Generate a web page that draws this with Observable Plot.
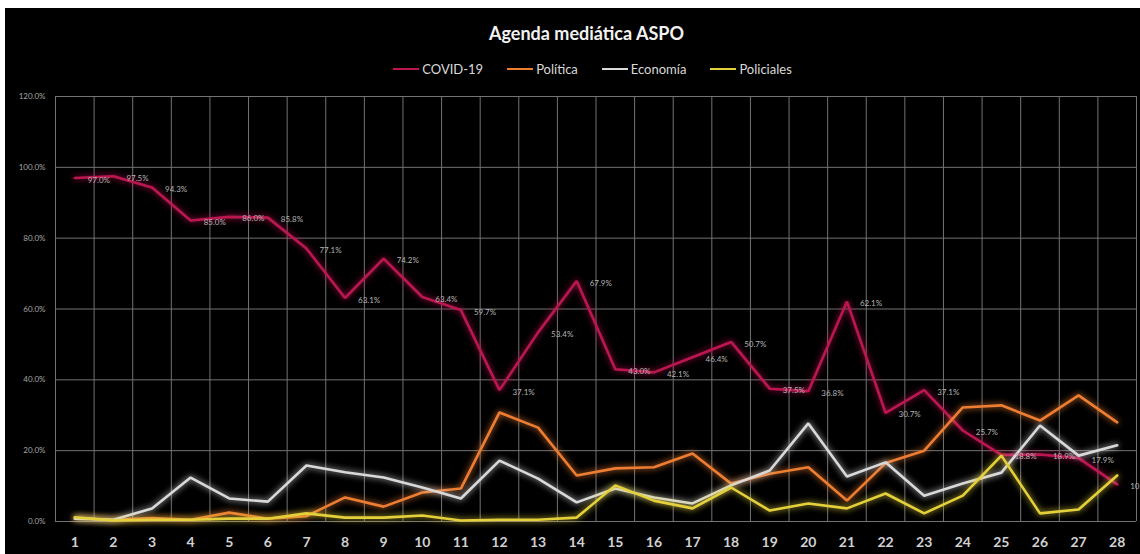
<!DOCTYPE html>
<html>
<head>
<meta charset="utf-8">
<script src="https://cdn.jsdelivr.net/npm/d3@7"></script>
<script src="https://cdn.jsdelivr.net/npm/@observablehq/plot@0.6"></script>
<style>
  html, body { margin: 0; padding: 0; background: #fff; }
  #chart {
    position: absolute; left: 5px; top: 8px; width: 1135px; height: 546px;
    background: #000; font-family: Lato, "Open Sans", sans-serif; overflow: hidden;
  }
  #title {
    position: absolute; top: 14px; left: 14px; width: 100%; text-align: center;
    color: #f2f2f2; font-weight: bold; font-size: 18px;
  }
  #legend {
    position: absolute; top: 53px; left: 20px; width: 100%;
    display: flex; justify-content: center; gap: 24px;
    color: #d9d9d9; font-size: 13px;
  }
  .item { display: flex; align-items: center; }
  .sw { width: 26px; height: 2px; margin-right: 3px; }
  #plot { position: absolute; left: 0; top: 77px; }
</style>
</head>
<body>
<div id="chart">
  <div id="title">Agenda mediática ASPO</div>
  <div id="legend"></div>
  <div id="plot"></div>
</div>
<script>
// Días del ASPO (eje X)
const days = d3.range(1, 29);

// Series: porcentaje de la agenda mediática
const covid = [97.0, 97.5, 94.3, 85.0, 86.0, 85.8, 77.1, 63.1, 74.2, 63.4, 59.7, 37.1, 53.4, 67.9,
               43.0, 42.1, 46.4, 50.7, 37.5, 36.8, 62.1, 30.7, 37.1, 25.7, 18.8, 18.9, 17.9, 10.5];
const politica = [1.0, 0.5, 1.0, 0.5, 2.5, 0.8, 1.5, 6.8, 4.2, 8.2, 9.3, 30.8, 26.5, 13.0,
                  15.0, 15.3, 19.2, 10.7, 13.5, 15.3, 5.9, 16.5, 20.0, 32.2, 32.8, 28.5, 35.6, 28.0];
const economia = [0.8, 0.5, 3.7, 12.4, 6.5, 5.6, 15.8, 13.9, 12.4, 9.6, 6.5, 17.2, 12.1, 5.4,
                  9.3, 6.8, 5.1, 10.2, 14.4, 27.7, 12.7, 16.7, 7.3, 10.7, 13.8, 27.1, 18.6, 21.5];
const policiales = [1.2, 0.3, 0.5, 0.5, 0.8, 0.8, 2.3, 1.1, 1.1, 1.7, 0.3, 0.5, 0.5, 1.1,
                    10.2, 5.9, 3.7, 9.6, 3.1, 5.1, 3.7, 7.9, 2.3, 7.3, 18.6, 2.3, 3.4, 13.0];

const seriesNames = ["COVID-19", "Política", "Economía", "Policiales"];
const seriesValues = [covid, politica, economia, policiales];
const seriesColors = ["#bb1650", "#ed7d31", "#d9d9d9", "#e3d03a"];
const yTicks = [0, 20, 40, 60, 80, 100, 120];

// Tabla larga para las líneas
const rows = seriesNames.flatMap((name, i) =>
  days.map((d, j) => ({ serie: name, dia: d, valor: seriesValues[i][j] })));
const covidRows = rows.filter(r => r.serie === "COVID-19");

// Límites entre categorías para la grilla vertical
const bounds = days.map(d => d - 0.5).concat([days[days.length - 1] + 0.5]);

// Leyenda
const legend = document.getElementById("legend");
seriesNames.forEach((n, i) => {
  const it = document.createElement("div");
  it.className = "item";
  it.innerHTML = `<span class="sw" style="background:${seriesColors[i]}"></span><span>${n}</span>`;
  legend.appendChild(it);
});

const chart = Plot.plot({
  width: 1135,
  height: 469,
  marginLeft: 50,
  marginRight: 4,
  marginTop: 11,
  marginBottom: 33,
  style: { background: "transparent", color: "#d9d9d9", fontFamily: "Lato, 'Open Sans', sans-serif" },
  x: { type: "linear", domain: [bounds[0], bounds[bounds.length - 1]], ticks: days, tickFormat: d => String(d),
       tickSize: 0, tickPadding: 16, label: null },
  y: { domain: [0, 120], ticks: yTicks, tickFormat: d => d.toFixed(1) + "%", tickSize: 0, tickPadding: 10, label: null },
  color: { domain: seriesNames, range: seriesColors },
  marks: [
    Plot.ruleY(yTicks, { stroke: "#737373", strokeWidth: 1 }),
    Plot.ruleX(bounds, { stroke: "#737373", strokeWidth: 1 }),
    Plot.line(rows, { x: "dia", y: "valor", z: "serie", stroke: "serie", strokeWidth: 2.6, strokeLinejoin: "miter" }),
    Plot.text(covidRows, { x: "dia", y: "valor", text: d => d.valor.toFixed(1) + "%", dx: 13, dy: 2,
      textAnchor: "start", fontSize: 8, fill: "#b3b3b3" })
  ]
});
document.getElementById("plot").appendChild(chart);

// Estilo de ejes y resplandor de las líneas
const svg = d3.select(chart);
svg.selectAll('g[aria-label="x-axis tick label"] text, g[aria-label="x-axis"] text')
  .style("font-size", "14px").style("font-weight", "bold").style("fill", "#d0d0d0");
svg.selectAll('g[aria-label="y-axis tick label"] text, g[aria-label="y-axis"] text')
  .style("font-size", "8px").style("fill", "#a6a6a6");
const defs = svg.insert("defs", ":first-child");
const f = defs.append("filter").attr("id", "glow").attr("x", "-5%").attr("y", "-20%").attr("width", "110%").attr("height", "140%");
f.append("feGaussianBlur").attr("in", "SourceGraphic").attr("stdDeviation", 3).attr("result", "b");
const m = f.append("feMerge");
m.append("feMergeNode").attr("in", "b");
m.append("feMergeNode").attr("in", "SourceGraphic");
svg.selectAll('g[aria-label="line"] path').attr("filter", "url(#glow)");
</script>
</body>
</html>
